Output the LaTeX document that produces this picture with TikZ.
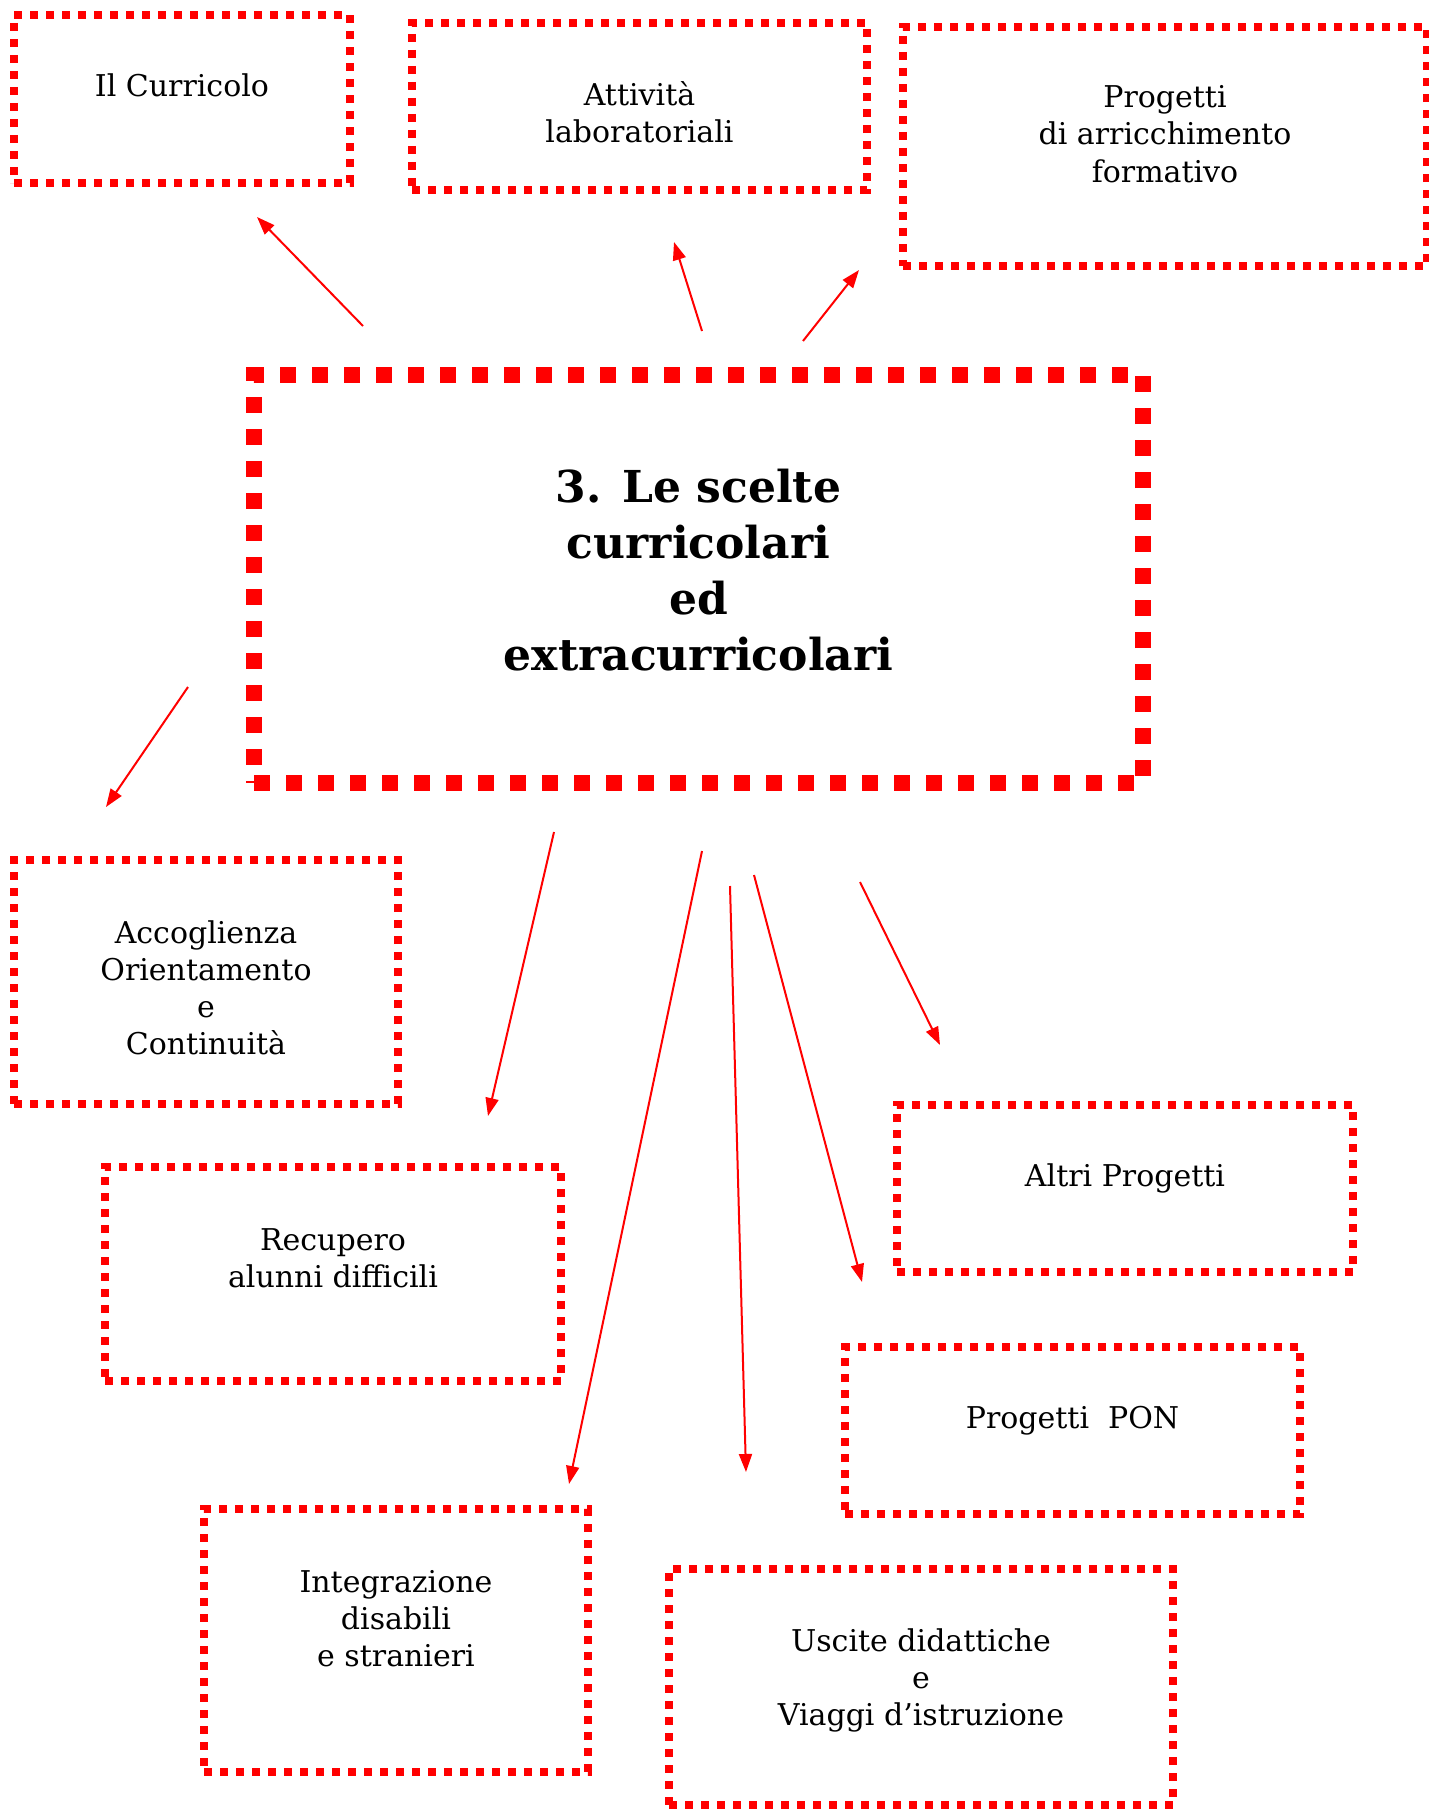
\documentclass[tikz,border=0pt]{standalone}
\usepackage{fontspec}
\setmainfont{DejaVu Serif}
\usetikzlibrary{arrows.meta}

\begin{document}
\begin{tikzpicture}[
    x=0.5pt,y=-0.5pt,
    every node/.style={font=\fontsize{15}{18.5}\selectfont},
    box/.style={rectangle,draw=red,line width=3.75pt,dash pattern=on 4pt off 4pt,align=center,inner sep=0pt,text height=0pt,text depth=0pt},
    mainbox/.style={box,line width=8pt,dash pattern=on 8pt off 8pt,font=\fontsize{22}{27.9}\selectfont\bfseries},
    arr/.style={red,line width=1pt,-{Triangle[length=9pt,width=6.5pt]}}
]

\useasboundingbox (0,0) rectangle (1429,1809);

% Central box
\node[mainbox,minimum width=444.5pt,minimum height=204pt,text height=91pt] (scelte) at (698.5,579) {3. Le scelte\\curricolari\\ed\\extracurricolari};

% Top row
\node[box,minimum width=168pt,minimum height=84pt,text depth=2pt]         (curricolo)  at (182,99)      {Il Curricolo};
\node[box,minimum width=227.5pt,minimum height=83.5pt,text height=35.5pt] (attivita)   at (639.5,106.5) {Attività\\laboratoriali};
\node[box,minimum width=262pt,minimum height=119.5pt,text height=35.5pt]  (progetti)   at (1165,146.5)  {Progetti\\di arricchimento\\formativo};

% Lower boxes
\node[box,minimum width=192pt,minimum height=122pt,text height=72pt]      (accoglienza)  at (206,982)       {Accoglienza\\Orientamento\\e\\Continuità};
\node[box,minimum width=228pt,minimum height=107pt,text height=13pt]      (recupero)     at (333,1274)      {Recupero\\alunni difficili};
\node[box,minimum width=228pt,minimum height=83.5pt,text depth=2.5pt]     (altri)        at (1125,1188.5)   {Altri Progetti};
\node[box,minimum width=227.5pt,minimum height=83.5pt,text depth=2.5pt]   (pon)          at (1072.5,1430.5) {Progetti\ \ PON};
\node[box,minimum width=192pt,minimum height=131.5pt,text height=25.5pt]  (integrazione) at (396,1640.5)    {Integrazione\\disabili\\e stranieri};
\node[box,minimum width=252pt,minimum height=118pt,text height=38pt]      (uscite)       at (921,1687)      {Uscite didattiche\\e\\Viaggi d’istruzione};

% Arrow ends
\coordinate (curricoloA)    at (363,326);  \coordinate (curricoloB)    at (257,217);
\coordinate (attivitaA)     at (702,331);  \coordinate (attivitaB)     at (674,242);
\coordinate (progettiA)     at (803,341);  \coordinate (progettiB)     at (859,270);
\coordinate (accoglienzaA)  at (188,687);  \coordinate (accoglienzaB)  at (106,807);
\coordinate (recuperoA)     at (554,832);  \coordinate (recuperoB)     at (488,1116);
\coordinate (integrazioneA) at (702,851);  \coordinate (integrazioneB) at (569,1484);
\coordinate (usciteA)       at (730,886);  \coordinate (usciteB)       at (746,1472);
\coordinate (ponA)          at (754,875);  \coordinate (ponB)          at (862,1282);
\coordinate (altriA)        at (860,882);  \coordinate (altriB)        at (940,1045);

% Arrows
\draw[arr] (curricoloA) -- (curricoloB);
\draw[arr] (attivitaA) -- (attivitaB);
\draw[arr] (progettiA) -- (progettiB);
\draw[arr] (accoglienzaA) -- (accoglienzaB);
\draw[arr] (recuperoA) -- (recuperoB);
\draw[arr] (integrazioneA) -- (integrazioneB);
\draw[arr] (usciteA) -- (usciteB);
\draw[arr] (ponA) -- (ponB);
\draw[arr] (altriA) -- (altriB);

\end{tikzpicture}
\end{document}
